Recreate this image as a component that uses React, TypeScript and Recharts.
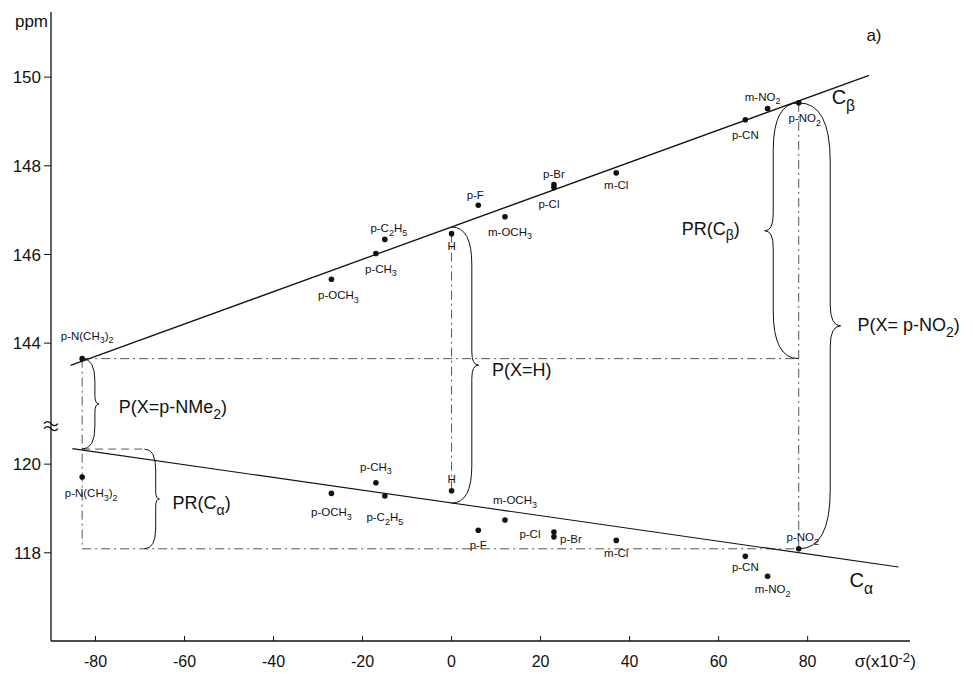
import React from 'react'
import { ComposedChart, XAxis, YAxis, Line, Scatter, ReferenceLine, ReferenceDot } from 'recharts'

// substituent X, Hammett sigma (x10^-2), 13C shifts of C-beta and C-alpha (ppm)
const substituents = ['p-N(CH_3)_2', 'p-OCH_3', 'p-CH_3', 'p-C_2H_5', 'H', 'p-F', 'm-OCH_3', 'p-Cl', 'p-Br', 'm-Cl', 'p-CN', 'm-NO_2', 'p-NO_2']
const sigma = [-83, -27, -17, -15, 0, 6, 12, 23, 23, 37, 66, 71, 78]
const cBeta = [143.65, 145.44, 146.02, 146.34, 146.47, 147.11, 146.85, 147.51, 147.58, 147.84, 149.04, 149.29, 149.42]
const cAlpha = [119.71, 119.34, 119.58, 119.28, 119.4, 118.51, 118.74, 118.47, 118.36, 118.28, 117.92, 117.47, 118.09]

// regression lines (ends as drawn)
const betaFitX = [-85.6, 93.8]
const betaFitY = [143.5, 150.04]
const alphaFitX = [-85.2, 100.4]
const alphaFitY = [120.35, 117.68]

const xTicks = [-80, -60, -40, -20, 0, 20, 40, 60, 80]
const yTicksUpper = [144, 146, 148, 150]
const yTicksLower = [118, 120]

// broken axis: the 116-121 ppm band is drawn right under the 143-151 band
const BREAK_SHIFT = 21.27
const toPlot = (ppm: number) => (ppm < 130 ? ppm + BREAK_SHIFT : ppm)

const FONT = '"Liberation Sans", Arial, sans-serif'
const INK = '#111'

const betaPoints = substituents.map((name, i) => ({ name, x: sigma[i], y: cBeta[i] }))
const alphaPoints = substituents.map((name, i) => ({ name, x: sigma[i], y: toPlot(cAlpha[i]) }))
const betaLine = betaFitX.map((x, i) => ({ x, y: betaFitY[i] }))
const alphaLine = alphaFitX.map((x, i) => ({ x, y: toPlot(alphaFitY[i]) }))

// label placement around each dot, px
const betaLabelPos: Record<string, [number, number]> = {
  'p-N(CH_3)_2': [5, -23], 'p-OCH_3': [7, 16], 'p-CH_3': [5, 15], 'p-C_2H_5': [4, -11], H: [0, 12],
  'p-F': [-3, -10], 'm-OCH_3': [5, 15], 'p-Cl': [-5, 16], 'p-Br': [0, -10], 'm-Cl': [0, 12],
  'p-CN': [0, 15], 'm-NO_2': [-5, -12], 'p-NO_2': [6, 15],
}
const alphaLabelPos: Record<string, [number, number]> = {
  'p-N(CH_3)_2': [9, 16], 'p-OCH_3': [0, 19], 'p-CH_3': [0, -16], 'p-C_2H_5': [0, 21], H: [0, -12],
  'p-F': [0, 15], 'm-OCH_3': [10, -20], 'p-Cl': [-24, 2], 'p-Br': [17, 2], 'm-Cl': [0, 13],
  'p-CN': [0, 11], 'm-NO_2': [5, 13], 'p-NO_2': [4, -12],
}

// dash-dot construction lines
const guides = [
  { a: [-83, 143.65], b: [78, 143.65] },
  { a: [-83, 118.09], b: [78, 118.09] },
  { a: [-83, 143.65], b: [-83, 118.09] },
  { a: [0, 146.47], b: [0, 119.4] },
  { a: [78, 149.42], b: [78, 118.09] },
]

// braces: x, from, to (ppm), width (px), direction
const braces = [
  { x: -83, from: 143.65, to: 120.34, w: 17, dir: 1 },
  { x: -69, from: 120.34, to: 118.09, w: 15, dir: 1 },
  { x: 0, from: 146.62, to: 119.12, w: 27, dir: 1 },
  { x: 78, from: 149.42, to: 143.65, w: 34, dir: -1 },
  { x: 78, from: 149.42, to: 118.09, w: 42, dir: 1 },
]

const notes = [
  { text: 'P(X=H)', x: 9.1, y: 143.41, size: 18 },
  { text: 'PR(C_β)', x: 51.7, y: 146.59, size: 18 },
  { text: 'P(X= p-NO_2)', x: 91.2, y: 144.41, size: 18 },
  { text: 'P(X=p-NMe_2)', x: -74.8, y: 142.56, size: 18 },
  { text: 'PR(C_α)', x: -62.7, y: 119.12, size: 18 },
  { text: 'C_β', x: 85.4, y: 149.55, size: 20 },
  { text: 'C_α', x: 89.4, y: 117.38, size: 20 },
  { text: 'a)', x: 93.2, y: 150.95, size: 17 },
]

type Part = { t: string; mode: number }
function parseRich(s: string): Part[] {
  const out: Part[] = []
  let i = 0
  while (i < s.length) {
    const c = s[i]
    if ((c === '_' || c === '^') && i + 1 < s.length) {
      const mode = c === '_' ? 1 : -1
      let t
      if (s[i + 1] === '{') {
        const j = s.indexOf('}', i + 2)
        t = s.slice(i + 2, j)
        i = j + 1
      } else {
        t = s[i + 1]
        i += 2
      }
      out.push({ t, mode })
    } else {
      let j = i
      while (j < s.length && s[j] !== '_' && s[j] !== '^') j++
      out.push({ t: s.slice(i, j), mode: 0 })
      i = j
    }
  }
  return out
}

function RichText({ x, y, text, size, anchor = 'middle' }: { x: number; y: number; text: string; size: number; anchor?: string }) {
  const parts = parseRich(text)
  const shift = size * 0.32
  let level = 0
  return (
    <text x={x} y={y + size * 0.35} fontSize={size} textAnchor={anchor as any} fill={INK} fontFamily={FONT}>
      {parts.map((p, k) => {
        const target = p.mode * shift
        const dy = target - level
        level = target
        return (
          <tspan key={k} dy={dy} fontSize={p.mode ? size * 0.78 : size}>
            {p.t}
          </tspan>
        )
      })}
    </text>
  )
}

function bracePath(x: number, ya: number, yb: number, w: number, d: number) {
  const t = Math.min(ya, yb)
  const b = Math.max(ya, yb)
  const m = (t + b) / 2
  const s = x + d * w * 0.75
  const tip = x + d * w
  const r = Math.min(w * 1.4, (b - t) / 4)
  const r2 = Math.min(w * 0.5, (b - t) / 6)
  return `M${x},${t} Q${s},${t} ${s},${t + r} L${s},${m - r2} Q${s},${m} ${tip},${m} Q${s},${m} ${s},${m + r2} L${s},${b - r} Q${s},${b} ${x},${b}`
}

const dotShape = (pos: Record<string, [number, number]>) => (p: any) => {
  const o = pos[p.payload.name] || [0, 0]
  return (
    <g>
      <circle cx={p.cx} cy={p.cy} r={2.8} fill={INK} />
      <RichText x={p.cx + o[0]} y={p.cy + o[1]} text={p.payload.name} size={11.5} />
    </g>
  )
}

export default function App() {
  return (
    <div style={{ position: 'absolute', left: 0, top: 0, width: 973, height: 674, background: '#fff' }}>
      <ComposedChart width={973} height={674} margin={{ top: 12, right: 63, bottom: 0, left: 0 }}>
        <XAxis
          type="number"
          dataKey="x"
          domain={[-90, 103]}
          ticks={xTicks}
          allowDataOverflow
          height={33}
          tickSize={-5}
          tickMargin={20}
          tick={{ fontSize: 16, fill: INK, fontFamily: FONT }}
          axisLine={{ stroke: INK, strokeWidth: 1.3 }}
          tickLine={{ stroke: INK }}
        />
        <YAxis
          type="number"
          dataKey="y"
          domain={[137.28, 151.47]}
          ticks={[...yTicksLower.map(toPlot), ...yTicksUpper]}
          allowDataOverflow
          width={51}
          tickSize={7}
          tickMargin={3}
          tickFormatter={(v: number) => (v < 142.5 ? String(Math.round(v - BREAK_SHIFT)) : String(v))}
          tick={{ fontSize: 17, fill: INK, fontFamily: FONT }}
          axisLine={{ stroke: INK, strokeWidth: 1.3 }}
          tickLine={{ stroke: INK }}
        />

        {guides.map((g, i) => (
          <ReferenceLine
            key={'g' + i}
            segment={[{ x: g.a[0], y: toPlot(g.a[1]) }, { x: g.b[0], y: toPlot(g.b[1]) }]}
            stroke="#555"
            strokeWidth={1}
            strokeDasharray="9 4 2 4"
          />
        ))}
        <ReferenceLine
          segment={[{ x: -83, y: toPlot(120.34) }, { x: -69, y: toPlot(120.34) }]}
          stroke="#555"
          strokeDasharray="8 5"
        />
        {braces.map((b, i) => (
          <ReferenceLine
            key={'b' + i}
            segment={[{ x: b.x, y: toPlot(b.from) }, { x: b.x, y: toPlot(b.to) }]}
            shape={(p: any) => (
              <path d={bracePath(p.x1, p.y1, p.y2, b.w, b.dir)} fill="none" stroke={INK} strokeWidth={1} />
            )}
          />
        ))}

        <Line data={betaLine} dataKey="y" type="linear" stroke={INK} strokeWidth={1.3} dot={false} isAnimationActive={false} />
        <Line data={alphaLine} dataKey="y" type="linear" stroke={INK} strokeWidth={1.1} dot={false} isAnimationActive={false} />
        <Scatter data={betaPoints} dataKey="y" shape={dotShape(betaLabelPos)} isAnimationActive={false} />
        <Scatter data={alphaPoints} dataKey="y" shape={dotShape(alphaLabelPos)} isAnimationActive={false} />

        {notes.map((n, i) => (
          <ReferenceDot
            key={'n' + i}
            x={n.x}
            y={toPlot(n.y)}
            r={0}
            ifOverflow="visible"
            shape={(p: any) => <RichText x={p.cx} y={p.cy} text={n.text} size={n.size} anchor="start" />}
          />
        ))}
        <ReferenceDot
          x={-90}
          y={151.47}
          r={0}
          ifOverflow="visible"
          shape={(p: any) => <RichText x={p.cx - 3} y={p.cy + 9} text="ppm" size={17} anchor="end" />}
        />
        <ReferenceDot
          x={90.6}
          y={137.28}
          r={0}
          ifOverflow="visible"
          shape={(p: any) => <RichText x={p.cx} y={p.cy + 20} text="σ(x10^{-2})" size={17} anchor="start" />}
        />
        <ReferenceDot
          x={-90}
          y={142.14}
          r={0}
          ifOverflow="visible"
          shape={(p: any) => (
            <g fill="none" stroke={INK} strokeWidth={1.3}>
              <path d={`M${p.cx - 7},${p.cy - 2} q3.5,-4 7,0 t7,0`} />
              <path d={`M${p.cx - 7},${p.cy + 3} q3.5,-4 7,0 t7,0`} />
            </g>
          )}
        />
      </ComposedChart>
    </div>
  )
}
